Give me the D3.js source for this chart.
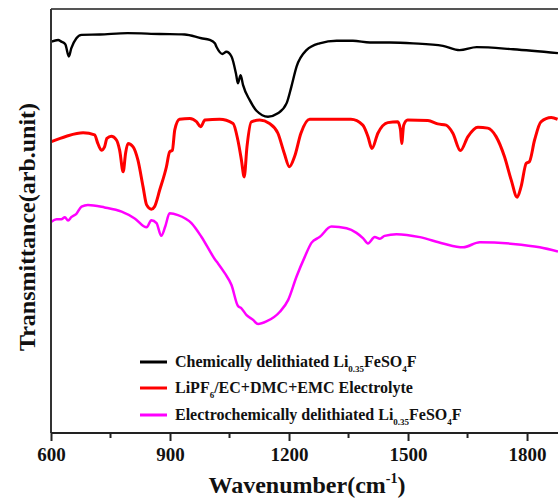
<!DOCTYPE html>
<html>
<head>
<meta charset="utf-8">
<script src="https://cdn.jsdelivr.net/npm/d3@7"></script>
<style>
  body{margin:0;background:#fff;}
  text{font-family:"Liberation Serif","Times New Roman",serif;font-weight:bold;}
</style>
</head>
<body>
<script>
// wavenumber (cm-1), transmittance (arb.)
const chemWave = [601,618,626,636,645,651,664,677,723,793,874,937,979,1000,1013,1017,1032,1042,1055,1067,1071,1078,1084,1101,1118,1147,1172,1194,1206,1219,1244,1277,1320,1361,1404,1454,1513,1588,1630,1673,1765,1878]
const chemT    = [92.3,92.7,92.3,91.7,88.8,90.7,93.1,93.9,94.0,94.3,94.1,94.0,93.1,92.7,91.9,91.1,89.4,89.9,88.8,84.4,82.5,84.4,82.1,78.5,76.0,74.6,75.4,77.8,81.7,86.4,90.3,91.9,92.5,92.5,92.1,92.1,91.9,91.3,90.3,91.0,90.5,89.6]

const elyWave = [601,639,681,710,718,727,735,741,752,765,773,782,788,794,807,819,832,841,853,861,874,891,899,906,912,924,950,967,977,988,1025,1059,1071,1080,1087,1094,1105,1126,1151,1172,1188,1201,1214,1230,1252,1298,1356,1386,1399,1409,1424,1449,1474,1481,1484,1489,1499,1550,1575,1596,1613,1632,1651,1676,1701,1722,1743,1760,1775,1785,1798,1806,1819,1835,1861,1877]
const elyT    = [68.7,70.0,70.8,70.3,68.3,66.7,67.5,69.5,70.0,69.1,66.7,61.6,66.0,68.3,67.5,64.4,58.1,53.8,52.8,53.4,57.3,62.8,66.3,66.7,71.5,74.0,74.2,73.4,72.2,73.8,74.0,73.0,69.1,64.4,60.4,67.5,73.4,73.8,73.0,70.7,66.0,62.8,65.2,70.7,74.0,74.0,74.0,72.6,69.9,67.1,70.7,73.2,73.4,71.5,68.3,72.6,73.8,73.7,72.9,72.6,70.7,66.6,69.9,72.1,71.9,69.9,65.2,59.7,55.6,58.1,63.6,64.0,69.1,73.4,74.4,74.0]

const echemWave = [601,614,626,635,643,651,664,677,693,735,778,811,841,853,866,878,888,899,920,954,979,1013,1021,1038,1055,1071,1080,1093,1109,1122,1143,1177,1198,1219,1240,1257,1277,1307,1345,1370,1387,1399,1416,1429,1441,1471,1530,1588,1639,1681,1765,1832,1878]
const echemT    = [49.8,50.4,50.4,50.9,50.1,50.9,51.7,53.4,53.8,53.2,52.2,50.6,48.5,50.2,49.5,46.5,48.7,51.8,51.4,49.5,46.3,41.0,40.0,37.7,34.9,30.0,29.4,27.8,26.7,25.7,26.3,28.6,31.4,36.9,41.6,44.9,46.2,48.7,48.3,47.2,45.9,44.7,46.2,45.8,46.5,46.9,46.2,44.7,43.8,45.0,44.6,43.8,42.8]

const xTicks = [600,900,1200,1500,1800]
const xMinor = [750,1050,1350,1650]

const seriesNames = ["Chemically delithiated ", "LiPF", "Electrochemically delithiated "]
const seriesColors = ["#000000","#ff0000","#ff00ff"]
const seriesWidths = [2.4,3,2.5]

const width = 558, height = 501
const margin = {top: 9, left: 51, bottom: 68}

const x = d3.scaleLinear().domain([600,2000]).range([margin.left, margin.left+1400*0.3967])
const y = d3.scaleLinear().domain([0,100]).range([height-margin.bottom, margin.top])

const svg = d3.select("body").append("svg")
  .attr("width", width)
  .attr("height", height)

const series = [
  d3.zip(chemWave, chemT),
  d3.zip(elyWave, elyT),
  d3.zip(echemWave, echemT)
]

const line = d3.line()
  .x(d=>x(d[0]))
  .y(d=>y(d[1]))
  .curve(d3.curveMonotoneX)

svg.append("g")
  .selectAll("path")
  .data(series)
  .join("path")
  .attr("d", line)
  .attr("fill","none")
  .attr("stroke",(d,i)=>seriesColors[i])
  .attr("stroke-width",(d,i)=>seriesWidths[i])
  .attr("stroke-linejoin","round")

// frame: top line + left axis
svg.append("line")
  .attr("x1", margin.left).attr("x2", width)
  .attr("y1", margin.top).attr("y2", margin.top)
  .attr("stroke","#555").attr("stroke-width",2)

svg.append("line")
  .attr("x1", margin.left).attr("x2", margin.left)
  .attr("y1", margin.top).attr("y2", y(0))
  .attr("stroke","#333").attr("stroke-width",2)

// bottom axis
const axisBottom = d3.axisBottom(x)
  .tickValues(xTicks)
  .tickSize(8)
  .tickPadding(7)
  .tickFormat(d3.format("d"))

const gx = svg.append("g")
  .attr("transform",`translate(0,${y(0)})`)
  .call(axisBottom)
gx.select(".domain").attr("stroke","#222").attr("stroke-width",2).attr("d",`M${margin.left},0H${width}`)
gx.selectAll(".tick line").attr("stroke","#222").attr("stroke-width",2)
gx.selectAll(".tick text")
  .attr("fill","#111")
  .style("font-family",'"Liberation Serif","Times New Roman",serif')
  .style("font-weight","bold")
  .style("font-size","19px")

gx.selectAll(".minor")
  .data(xMinor)
  .join("line")
  .attr("class","minor")
  .attr("x1",d=>x(d)).attr("x2",d=>x(d))
  .attr("y1",0).attr("y2",5)
  .attr("stroke","#222").attr("stroke-width",2)

// axis titles
const xt = svg.append("text")
  .attr("x",307)
  .attr("y",493)
  .attr("text-anchor","middle")
  .style("font-size","24px")
  .attr("fill","#111")
xt.append("tspan").text("Wavenumber(cm")
xt.append("tspan").text("-1").style("font-size","14px").attr("dy",-10)
xt.append("tspan").text(")").attr("dy",10)

svg.append("text")
  .attr("transform","translate(35,227) rotate(-90)")
  .attr("text-anchor","middle")
  .style("font-size","24px")
  .attr("fill","#111")
  .text("Transmittance(arb.unit)")

// legend
const legendY = [362,388,415]
const lg = svg.append("g")
lg.selectAll("line")
  .data(seriesColors)
  .join("line")
  .attr("x1",140).attr("x2",167)
  .attr("y1",(d,i)=>legendY[i]).attr("y2",(d,i)=>legendY[i])
  .attr("stroke",d=>d).attr("stroke-width",3)

const sub = (t,txt)=>t.append("tspan").text(txt).style("font-size","9px").attr("dy",5)
const back = (t,txt)=>t.append("tspan").text(txt).attr("dy",-5)

lg.selectAll("text")
  .data(seriesNames)
  .join("text")
  .attr("x",175)
  .attr("y",(d,i)=>legendY[i]+5)
  .style("font-size","16px")
  .attr("fill","#111")
  .each(function(d,i){
    const t = d3.select(this)
    t.append("tspan").text(d)
    if(i==1){
      sub(t,"6"); back(t,"/EC+DMC+EMC Electrolyte")
    }else{
      t.append("tspan").text("Li")
      sub(t,"0.35"); back(t,"FeSO")
      sub(t,"4"); back(t,"F")
    }
  })
</script>
</body>
</html>
